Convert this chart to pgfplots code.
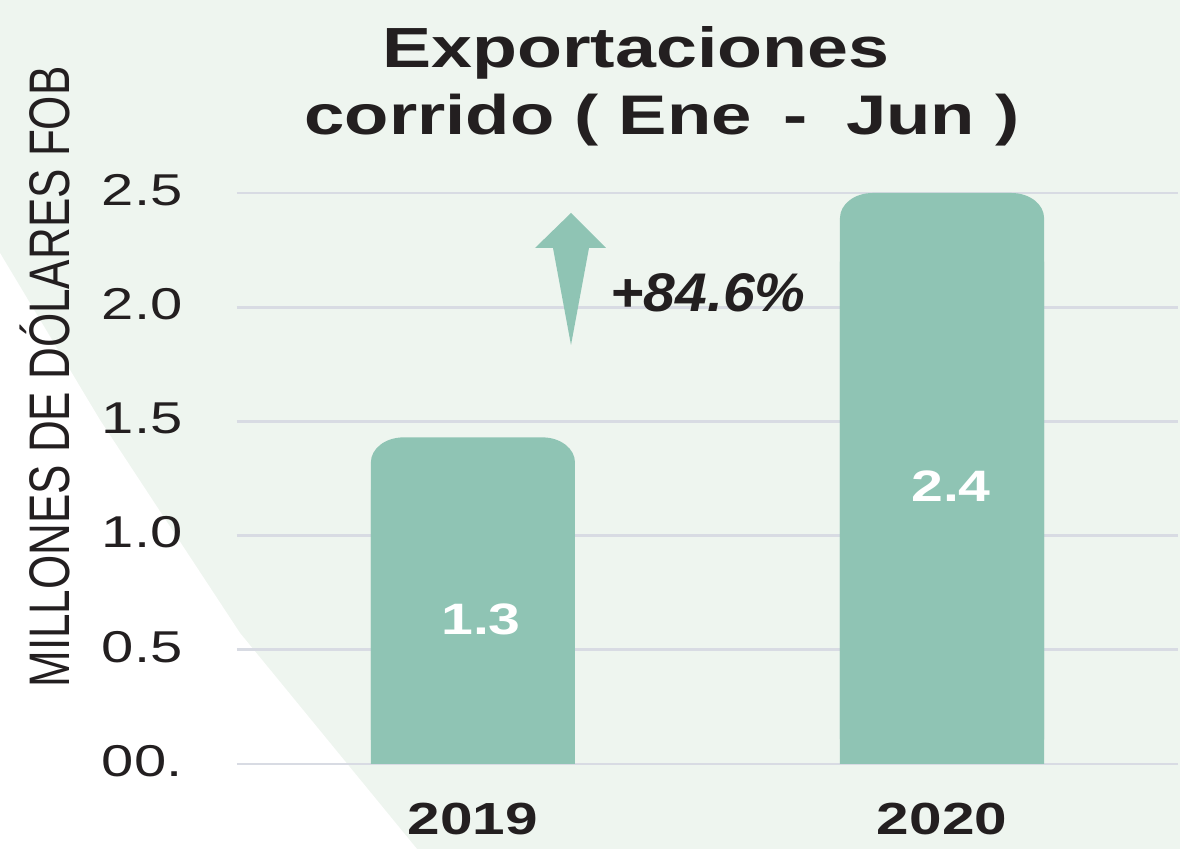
\documentclass[border=0pt]{standalone}
\usepackage{fontspec}
\setmainfont{Liberation Sans}
\usepackage{graphicx}
\usepackage{pgfplots}
\pgfplotsset{compat=1.18}
\definecolor{bgc}{RGB}{238,245,239}
\definecolor{barc}{RGB}{143,196,180}
\definecolor{gridc}{RGB}{216,219,227}
\definecolor{txt}{RGB}{35,31,32}

\begin{document}
% the source image is stretched horizontally, so draw narrow and stretch by 1.3
\scalebox{1.3}[1]{%
\begin{tikzpicture}
\useasboundingbox (0,0) rectangle (453.846pt,-424.5pt);
\begin{scope}[x=0.384615pt, y=-0.5pt]
  \fill[bgc] (0,0) rectangle (1180,849);
  \fill[white] (0,253) -- (100,420) -- (240,633) -- (417,849) -- (0,849) -- cycle;
\end{scope}

\begin{axis}[
    at={(91.15pt,-382pt)}, anchor=south west,
    scale only axis, width=361.92pt, height=285.5pt,
    xmin=-0.503, xmax=1.503, ymin=0, ymax=2.5,
    axis line style={draw=none}, major tick style={draw=none},
    ymajorgrids, grid style={gridc, line width=1.4pt},
    ytick={0,0.5,1.0,1.5,2.0,2.5},
    yticklabels={00.,0.5,1.0,1.5,2.0,2.5},
    xtick={0,1}, xticklabels={2019,2020},
    yticklabel style={font=\fontsize{22.3}{26}\selectfont, text=txt,
        anchor=east, inner sep=0pt, xshift=-20.8pt, yshift=1.5pt},
    xticklabel style={font=\fontsize{22.5}{26}\selectfont\bfseries, text=txt,
        anchor=north, inner sep=0pt, yshift=-19.5pt},
    clip=false,
]
\addplot[ybar, bar width=78.5pt, bar shift=0pt, fill=barc, draw=none, rounded corners=12.5pt]
    coordinates {(0,1.43) (1,2.5)};
\addplot[ybar, bar width=78.5pt, bar shift=0pt, fill=barc, draw=none]
    coordinates {(0,1.2) (1,2.2)};
\end{axis}

\begin{scope}[x=0.384615pt, y=-0.5pt]
  % arrow
  \fill[barc] (571,213) -- (606,248) -- (589,248) -- (571,345) -- (553,248) -- (535,248) -- cycle;
  \node[anchor=base west, inner sep=0pt, text=txt,
        font=\fontsize{27.2}{30}\selectfont\bfseries\itshape] at (610,312)
        {\resizebox{75pt}{\height}{+84.6\%}};
  % title
  \node[anchor=base, font=\fontsize{28.3}{32}\selectfont\bfseries, text=txt] at (636,68) {Exportaciones};
  \node[anchor=base, font=\fontsize{27.9}{32}\selectfont\bfseries, text=txt] at (662,135)
        {corrido ( Ene\hspace{12pt}-\hspace{15pt}Jun )};
  % y label
  \node[rotate=90, inner sep=0pt, font=\fontsize{22}{26}\selectfont, text=txt] at (45,377)
        {MILLONES DE DÓLARES FOB};
  % bar values
  \node[anchor=base, text=white, font=\fontsize{22}{26}\selectfont\bfseries] at (481,635) {1.3};
  \node[anchor=base, text=white, font=\fontsize{22}{26}\selectfont\bfseries] at (951,502) {2.4};
\end{scope}
\end{tikzpicture}}
\end{document}
